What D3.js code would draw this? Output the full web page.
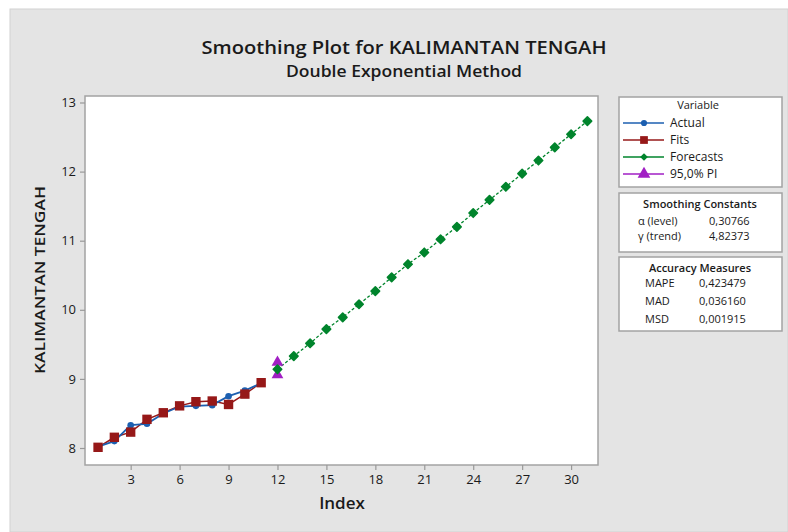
<!DOCTYPE html>
<html>
<head>
<meta charset="utf-8">
<script src="https://cdnjs.cloudflare.com/ajax/libs/d3/7.8.5/d3.min.js"></script>
<style>
  body { margin: 0; background: #fff; }
  svg text { font-family: "Open Sans", "Noto Sans", sans-serif; fill: #1a1a1a; }
</style>
</head>
<body>
<svg width="788" height="532"></svg>
<script>
// data
var actualIndex = [1, 2, 3, 4, 5, 6, 7, 8, 9, 10, 11];
var actual = [8.02, 8.10, 8.33, 8.35, 8.50, 8.60, 8.61, 8.62, 8.75, 8.83, 8.94];
var fits = [8.01, 8.155, 8.23, 8.415, 8.51, 8.61, 8.67, 8.68, 8.63, 8.78, 8.945];
var forecastIndex = [12, 13, 14, 15, 16, 17, 18, 19, 20, 21, 22, 23, 24, 25, 26, 27, 28, 29, 30, 31];
var forecasts = [9.14, 9.33, 9.515, 9.72, 9.89, 10.08, 10.27, 10.47, 10.66, 10.83,
                 11.02, 11.20, 11.40, 11.59, 11.78, 11.97, 12.16, 12.35, 12.54, 12.73];
var piIndex = [12, 12];
var piValues = [9.06, 9.24];
var xTicks = [3, 6, 9, 12, 15, 18, 21, 24, 27, 30];
var yTicks = [8, 9, 10, 11, 12, 13];
var smoothing = [["\u03b1 (level)", "0,30766"], ["\u03b3 (trend)", "4,82373"]];
var accuracy = [["MAPE", "0,423479"], ["MAD", "0,036160"], ["MSD", "0,001915"]];

var svg = d3.select("svg");

var cBlue = "#1c5fb0", cRed = "#961818", cGreen = "#00842c", cPurple = "#a11fc4";

svg.append("rect")
    .attr("x", 10).attr("y", 9)
    .attr("width", 778).attr("height", 523)
    .attr("fill", "#e4e4e4")
    .attr("stroke", "#d2d2d2");

var x = d3.scaleLinear().domain([0.2, 31.65]).range([85, 598]);
var y = d3.scaleLinear().domain([7.754, 13.094]).range([465, 96]);

svg.append("rect")
    .attr("x", 85).attr("y", 96)
    .attr("width", 513).attr("height", 369)
    .attr("fill", "#fff")
    .attr("stroke", "#a3a3a3")
    .attr("stroke-width", 1.5);

var gx = svg.append("g")
    .attr("transform", "translate(0,465)")
    .call(d3.axisBottom(x).tickValues(xTicks).tickSize(5).tickPadding(5));
gx.select(".domain").remove();

var gy = svg.append("g")
    .attr("transform", "translate(85,0)")
    .call(d3.axisLeft(y).tickValues(yTicks).tickFormat(d3.format("d")).tickSize(5).tickPadding(4));
gy.select(".domain").remove();

svg.selectAll(".tick line").attr("stroke", "#999").attr("stroke-width", 1.2);
svg.selectAll(".tick text")
    .style("font-size", "13px")
    .style("font-family", "'Open Sans', sans-serif")
    .attr("fill", "#2a2a2a");

// titles
svg.append("text")
    .attr("x", 404).attr("y", 54)
    .attr("text-anchor", "middle")
    .attr("textLength", 405).attr("lengthAdjust", "spacingAndGlyphs")
    .style("font-size", "18px").style("font-weight", 600)
    .text("Smoothing Plot for KALIMANTAN TENGAH");
svg.append("text")
    .attr("x", 404).attr("y", 77)
    .attr("text-anchor", "middle")
    .attr("textLength", 236).attr("lengthAdjust", "spacingAndGlyphs")
    .style("font-size", "15.5px").style("font-weight", 600)
    .text("Double Exponential Method");
svg.append("text")
    .attr("x", 342).attr("y", 509)
    .attr("text-anchor", "middle")
    .style("font-size", "17px").style("font-weight", 600)
    .text("Index");
svg.append("text")
    .attr("transform", "translate(45,280) rotate(-90)")
    .attr("text-anchor", "middle")
    .attr("textLength", 188).attr("lengthAdjust", "spacingAndGlyphs")
    .style("font-size", "15px").style("font-weight", 600)
    .text("KALIMANTAN TENGAH");

// series
var line = d3.line().x(function(d) { return x(d[0]); }).y(function(d) { return y(d[1]); });

var actualPts = d3.zip(actualIndex, actual);
var fitPts = d3.zip(actualIndex, fits);
var fcPts = d3.zip(forecastIndex, forecasts);
var piPts = d3.zip(piIndex, piValues);

svg.append("path").datum(fitPts)
    .attr("d", line).attr("fill", "none")
    .attr("stroke", cRed).attr("stroke-width", 1.5);
svg.append("path").datum(actualPts)
    .attr("d", line).attr("fill", "none")
    .attr("stroke", cBlue).attr("stroke-width", 1.8);
svg.append("path").datum(fcPts)
    .attr("d", line).attr("fill", "none")
    .attr("stroke", cGreen).attr("stroke-width", 1.3)
    .attr("stroke-dasharray", "3,2");

var sym = function(type, size) { return d3.symbol().type(type).size(size)(); };
var pos = function(d) { return "translate(" + x(d[0]) + "," + y(d[1]) + ")"; };

svg.selectAll(".act").data(actualPts).enter().append("path")
    .attr("class", "act")
    .attr("transform", pos)
    .attr("d", sym(d3.symbolCircle, 34))
    .attr("fill", cBlue);

svg.selectAll(".fit").data(fitPts).enter().append("path")
    .attr("class", "fit")
    .attr("transform", pos)
    .attr("d", sym(d3.symbolSquare, 88))
    .attr("fill", cRed);

svg.selectAll(".pi").data(piPts).enter().append("path")
    .attr("class", "pi")
    .attr("transform", pos)
    .attr("d", sym(d3.symbolTriangle, 60))
    .attr("fill", cPurple);

svg.selectAll(".fc").data(fcPts).enter().append("path")
    .attr("class", "fc")
    .attr("transform", function(d) { return pos(d) + " rotate(45)"; })
    .attr("d", sym(d3.symbolSquare, 36))
    .attr("fill", cGreen)
    .attr("stroke", cGreen)
    .attr("stroke-width", 1.6)
    .attr("stroke-linejoin", "round");

// legend boxes
function box(y0, h) {
  svg.append("rect")
      .attr("x", 619).attr("y", y0)
      .attr("width", 163).attr("height", h)
      .attr("fill", "#fff")
      .attr("stroke", "#a3a3a3")
      .attr("stroke-width", 1.5);
}
box(97, 90);
box(193, 59);
box(257, 74);

svg.append("text")
    .attr("x", 698).attr("y", 109)
    .attr("text-anchor", "middle")
    .style("font-size", "11px")
    .text("Variable");

var legendItems = [
  ["Actual", cBlue, d3.symbolCircle, 30, 0],
  ["Fits", cRed, d3.symbolSquare, 60, 0],
  ["Forecasts", cGreen, d3.symbolSquare, 30, 45],
  ["95,0% PI", cPurple, d3.symbolTriangle, 70, 0]
];
var leg = svg.selectAll(".leg").data(legendItems).enter().append("g")
    .attr("class", "leg")
    .attr("transform", function(d, i) { return "translate(0," + (123 + i * 17) + ")"; });
leg.append("line")
    .attr("x1", 623).attr("x2", 664)
    .attr("stroke", function(d) { return d[1]; })
    .attr("stroke-width", 1.5);
leg.append("path")
    .attr("transform", function(d) { return "translate(644,0) rotate(" + d[4] + ")"; })
    .attr("d", function(d) { return sym(d[2], d[3]); })
    .attr("fill", function(d) { return d[1]; });
leg.append("text")
    .attr("x", 670).attr("y", 4)
    .style("font-size", "12px")
    .text(function(d) { return d[0]; });

svg.append("text")
    .attr("x", 700).attr("y", 208)
    .attr("text-anchor", "middle")
    .style("font-size", "11px").style("font-weight", 600)
    .text("Smoothing Constants");
smoothing.forEach(function(r, i) {
  svg.append("text").attr("x", 638).attr("y", 225 + i * 15)
      .style("font-size", "11px").text(r[0]);
  svg.append("text").attr("x", 709).attr("y", 225 + i * 15)
      .style("font-size", "11px").text(r[1]);
});

svg.append("text")
    .attr("x", 700).attr("y", 272)
    .attr("text-anchor", "middle")
    .style("font-size", "11px").style("font-weight", 600)
    .text("Accuracy Measures");
accuracy.forEach(function(r, i) {
  svg.append("text").attr("x", 645).attr("y", 287 + i * 18)
      .style("font-size", "11px").text(r[0]);
  svg.append("text").attr("x", 699).attr("y", 287 + i * 18)
      .style("font-size", "11px").text(r[1]);
});
</script>
</body>
</html>
